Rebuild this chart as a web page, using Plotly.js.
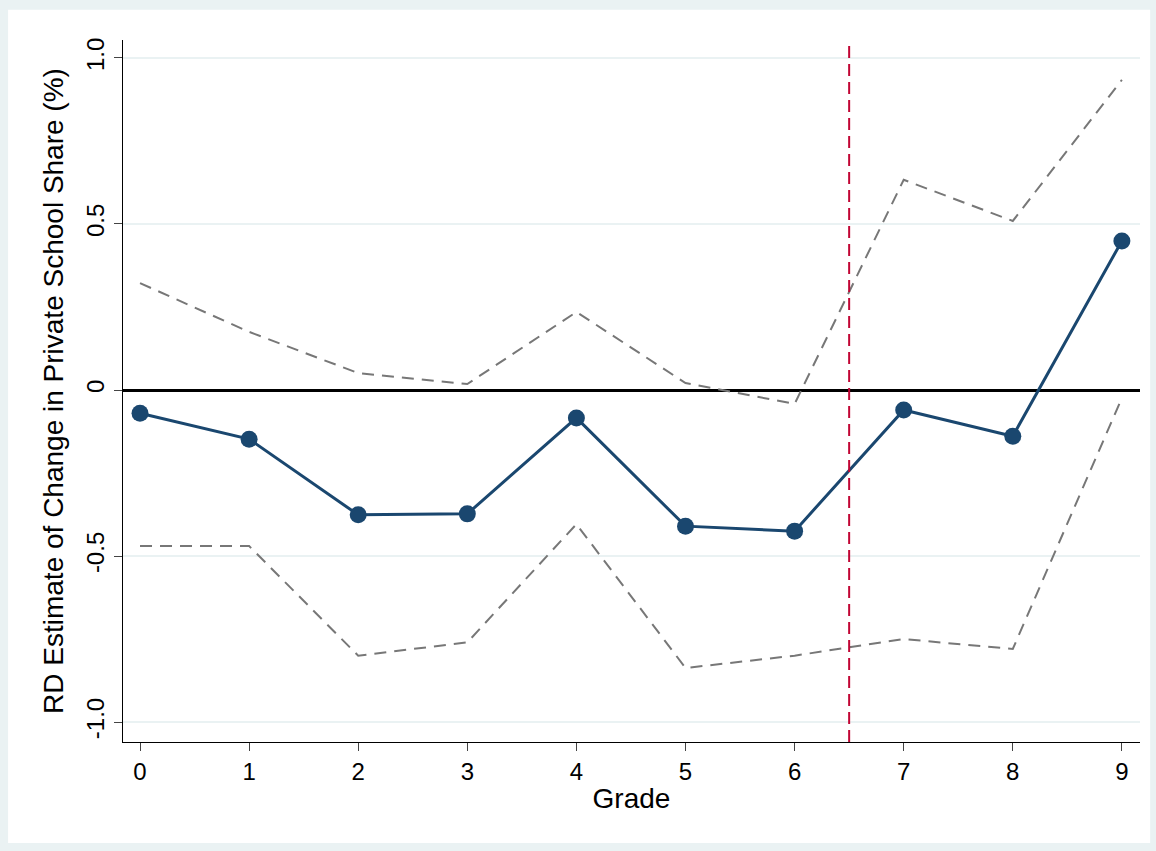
<!DOCTYPE html>
<html><head><meta charset="utf-8">
<script src="https://cdn.plot.ly/plotly-3.0.1.min.js"></script>
<style>body{margin:0}</style></head>
<body><div id="chart" style="width:1156px;height:851px"></div>
<script>
const grades = [0, 1, 2, 3, 4, 5, 6, 7, 8, 9];
const estimate = [-0.07, -0.148, -0.376, -0.373, -0.084, -0.41, -0.425, -0.06, -0.139, 0.449];
const upperCI = [0.322, 0.175, 0.051, 0.018, 0.235, 0.021, -0.042, 0.633, 0.509, 0.934];
const lowerCI = [-0.47, -0.47, -0.80, -0.76, -0.404, -0.837, -0.80, -0.75, -0.78, -0.024];
const cutoff = 6.5;

const ciLine = { color: '#777777', width: 2, dash: '12px,8px' };
const data = [
  { x: grades, y: upperCI, mode: 'lines', line: ciLine, hoverinfo: 'skip' },
  { x: grades, y: lowerCI, mode: 'lines', line: ciLine, hoverinfo: 'skip' },
  { x: grades, y: estimate, mode: 'lines+markers',
    line: { color: '#1a476f', width: 3 },
    marker: { color: '#1a476f', size: 17 } }
];

const layout = {
  width: 1156, height: 851,
  margin: { l: 123, r: 16, t: 40, b: 109 },
  paper_bgcolor: '#eaf2f3', plot_bgcolor: 'white',
  showlegend: false,
  font: { family: 'Liberation Sans, Arial, sans-serif', size: 23, color: 'black' },
  xaxis: {
    range: [-0.156, 9.166], tickvals: grades, showgrid: false, zeroline: false,
    showline: true, linecolor: 'black', ticks: 'outside', ticklen: 8,
    tickfont: { size: 24, color: 'black' },
    title: { text: 'Grade', standoff: 4 }
  },
  yaxis: {
    range: [-1.06, 1.054], tickvals: [-1, -0.5, 0, 0.5, 1],
    ticktext: ['-1.0', '-0.5', '0', '0.5', '1.0'], tickangle: -90,
    tickfont: { size: 24, color: 'black' },
    showgrid: true, gridcolor: '#eaf2f3', gridwidth: 2,
    zeroline: true, zerolinecolor: 'black', zerolinewidth: 3,
    showline: true, linecolor: 'black', ticks: 'outside', ticklen: 8,
    title: { text: 'RD Estimate of Change in Private School Share (%)', standoff: 10 }
  },
  shapes: [
    { type: 'rect', xref: 'paper', yref: 'paper', x0: -0.113, x1: 1.01, y0: -0.144, y1: 1.043,
      fillcolor: 'white', line: { width: 0 }, layer: 'below' },
    { type: 'line', xref: 'x', yref: 'paper', x0: cutoff, x1: cutoff, y0: 0, y1: 1,
      line: { color: '#c10534', width: 2, dash: '12px,6px' } }
  ]
};

Plotly.newPlot('chart', data, layout, { displayModeBar: false });
</script></body></html>
